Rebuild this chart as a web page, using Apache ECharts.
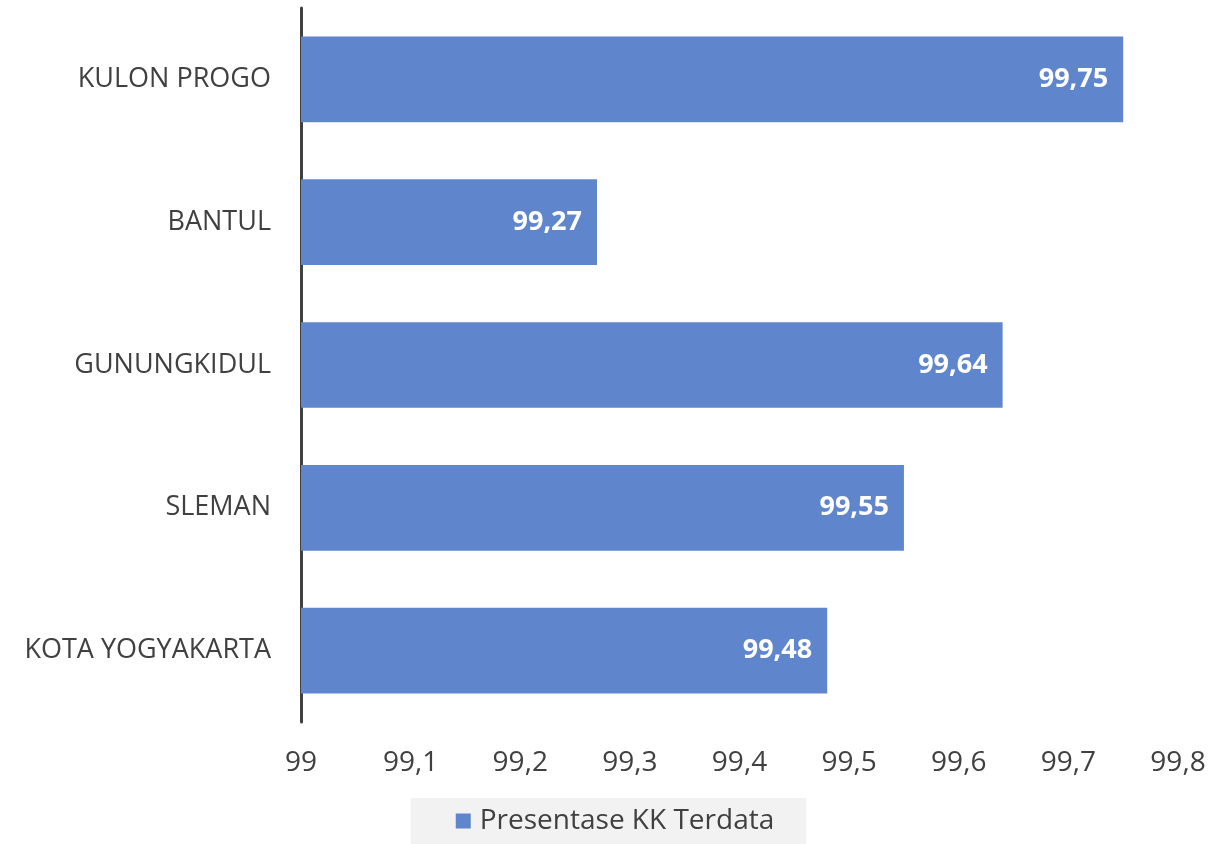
<!DOCTYPE html>
<html><head><meta charset="utf-8">
<script src="https://cdn.jsdelivr.net/npm/echarts@6/dist/echarts.min.js"></script>
<style>html,body{margin:0;padding:0;background:#fff}#c{width:1230px;height:844px}</style>
</head><body><div id="c"></div>
<script>
const categories = ["KULON PROGO", "BANTUL", "GUNUNGKIDUL", "SLEMAN", "KOTA YOGYAKARTA"];
const values = [99.75, 99.27, 99.64, 99.55, 99.48];
const seriesName = "Presentase KK Terdata";
const fmt = v => String(v).replace('.', ',');
const chart = echarts.init(document.getElementById('c'));
chart.setOption({
  animation: false,
  textStyle: {fontFamily: "Open Sans"},
  grid: {left: 301, right: 52, top: 8, bottom: 122, containLabel: false},
  legend: {
    bottom: 0, left: 'center', data: [seriesName],
    backgroundColor: '#f2f2f2', padding: [9, 32, 9, 45],
    itemWidth: 15, itemHeight: 15, icon: 'rect', itemGap: 10,
    textStyle: {fontSize: 28, color: '#404040', fontFamily: "Open Sans", padding: [0, 0, 0, 4]}
  },
  xAxis: {
    type: 'value', min: 99, max: 99.8, interval: 0.1,
    axisLine: {show: false}, axisTick: {show: false}, splitLine: {show: false},
    axisLabel: {formatter: v => fmt(Math.round(v*10)/10), fontSize: 28, color: '#404040', margin: 27}
  },
  yAxis: {
    type: 'category', data: categories, inverse: true,
    axisLine: {show: true, lineStyle: {color: '#404040', width: 3}},
    axisTick: {show: false},
    axisLabel: {fontSize: 27, color: '#404040', margin: 30}
  },
  series: [{
    name: seriesName, type: 'bar', data: values,
    barCategoryGap: '40%',
    itemStyle: {color: '#5f86cc'},
    label: {show: true, position: 'insideRight', distance: 15, formatter: p => fmt(p.value),
      color: '#fff', fontWeight: 'bold', fontSize: 27}
  }]
});
</script></body></html>
